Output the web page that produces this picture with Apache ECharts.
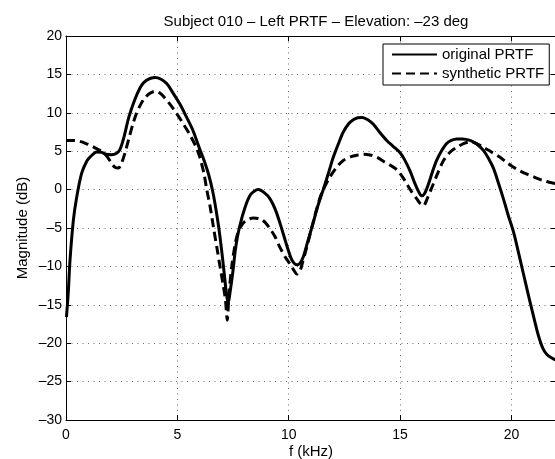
<!DOCTYPE html>
<html><head><meta charset="utf-8">
<script src="https://cdn.jsdelivr.net/npm/echarts@6/dist/echarts.min.js"></script>
<style>html,body{margin:0;padding:0;background:#fff}#c{width:555px;height:459px}</style>
</head><body><div id="c"></div>
<script>
const titleText = 'Subject 010 \u2013 Left PRTF \u2013 Elevation: \u201323 deg';
const seriesNames = ['original PRTF', 'synthetic PRTF'];
const origFreq = [0.02,0.1,0.18,0.33,0.48,0.7,0.93,1.1,1.38,1.6,1.8,2.05,2.25,2.42,2.6,2.8,3.0,3.2,3.4,3.6,3.8,4.0,4.25,4.52,4.8,5.12,5.4,5.7,6.0,6.2,6.4,6.6,6.8,6.95,7.1,7.2,7.28,7.36,7.5,7.62,7.78,8.04,8.3,8.63,8.9,9.16,9.4,9.61,9.8,9.98,10.15,10.36,10.5,10.66,10.85,11.1,11.3,11.55,11.8,12.0,12.25,12.45,12.7,12.9,13.1,13.3,13.55,13.8,14.1,14.4,14.7,15.0,15.2,15.45,15.65,15.82,15.97,16.1,16.27,16.45,16.64,16.85,17.09,17.3,17.54,17.8,18.14,18.45,18.74,19.0,19.19,19.4,19.64,19.85,20.1,20.3,20.5,20.75,21.0,21.2,21.4,21.6,21.85,22.0];
const origDb = [-16.6,-13.5,-9.2,-4.0,-1.0,2.1,3.7,4.3,4.9,4.85,4.6,4.55,4.7,5.2,6.8,9.2,11.0,12.5,13.6,14.2,14.5,14.6,14.4,13.8,12.6,11.1,9.5,7.7,5.3,3.8,2.0,-0.4,-3.8,-7.0,-10.8,-13.5,-14.8,-13.5,-10.5,-7.5,-5.0,-2.3,-0.6,0.0,-0.4,-1.2,-2.6,-4.4,-6.2,-7.9,-9.2,-9.8,-9.6,-8.7,-6.8,-4.3,-2.2,0.0,2.3,4.2,6.1,7.5,8.6,9.1,9.35,9.4,9.1,8.5,7.4,6.4,5.6,4.8,3.9,2.4,0.9,-0.2,-0.8,-0.5,0.7,2.3,3.8,5.0,6.0,6.4,6.6,6.6,6.4,5.9,5.1,3.9,2.8,1.0,-1.2,-3.3,-5.6,-8.0,-10.5,-13.6,-16.6,-18.9,-20.6,-21.5,-22.0,-22.2];
const synFreq = [0,0.3,0.6,0.9,1.2,1.45,1.65,1.85,2.05,2.2,2.35,2.5,2.65,2.8,3.0,3.15,3.3,3.5,3.75,4.0,4.2,4.45,4.7,4.97,5.3,5.57,5.8,6.0,6.2,6.32,6.47,6.62,6.8,6.92,7.05,7.16,7.24,7.32,7.45,7.59,7.7,7.85,8.05,8.41,8.7,8.95,9.16,9.4,9.6,9.85,10.06,10.25,10.36,10.5,10.6,10.8,10.96,11.2,11.4,11.55,11.8,12.0,12.2,12.45,12.8,13.1,13.36,13.65,13.96,14.3,14.6,14.85,15.1,15.3,15.5,15.75,15.9,16.05,16.2,16.43,16.7,16.95,17.25,17.54,17.85,18.14,18.45,18.74,19.1,19.49,19.8,20.1,20.4,20.7,21.05,21.4,21.7,22.0];
const synDb = [6.4,6.4,6.3,6.0,5.6,5.2,4.9,4.3,3.4,2.9,2.8,3.5,4.8,6.4,8.5,9.8,10.8,11.8,12.5,12.8,12.6,11.9,11.0,9.9,8.4,7.1,5.8,4.3,2.0,0.0,-2.2,-4.9,-8.0,-10.1,-12.3,-14.4,-17.0,-13.5,-9.8,-7.2,-5.8,-4.8,-4.1,-3.7,-3.8,-4.3,-5.1,-6.2,-7.5,-8.8,-9.7,-10.6,-11.0,-10.6,-9.7,-7.6,-5.8,-3.1,-1.1,0.0,1.4,2.3,3.1,3.8,4.3,4.5,4.6,4.5,4.2,3.6,3.1,2.6,1.7,0.75,-0.2,-1.2,-1.8,-2.1,-1.3,0.3,2.2,3.8,4.9,5.5,6.0,6.2,6.0,5.5,4.9,4.2,3.5,2.9,2.4,2.0,1.6,1.2,0.95,0.75];
const xMin = 0, xMax = 22, xStep = 5;
const yMin = -30, yMax = 20, yStep = 5;
const xName = 'f (kHz)';
const yName = 'Magnitude (dB)';

const FONT = '"Liberation Sans", Arial, Helvetica, sans-serif';
const fmt = v => String(v).replace('-', '\u2013');
const zip = (a, b) => a.map((x, i) => [x, b[i]]);
const dotted = {show: true, lineStyle: {color: '#6a6a6a', width: 1, type: [1, 4.5]}};
const tick = {show: true, inside: true, length: 5, lineStyle: {color: '#000'}};
const axLine = {show: true, onZero: false, lineStyle: {color: '#000', width: 1}};
const lbl = {color: '#000', fontSize: 14, fontFamily: FONT};
const nameStyle = {fontSize: 15, color: '#000', fontFamily: FONT};

const chart = echarts.init(document.getElementById('c'), null, {renderer: 'canvas'});
chart.setOption({
  animation: false,
  backgroundColor: '#fff',
  title: {text: titleText, left: 311, top: 9, textAlign: 'center',
    textStyle: {fontSize: 15, fontWeight: 'normal', color: '#000', fontFamily: FONT}},
  grid: {left: 66, top: 36, width: 490, height: 384, containLabel: false, outerBoundsMode: 'none'},
  legend: {
    data: seriesNames, orient: 'vertical', left: 383, top: 44,
    backgroundColor: '#fff', borderColor: '#000', borderWidth: 1, borderRadius: 0,
    padding: [3, 5, 4, 8], itemGap: 4, itemWidth: 45, itemHeight: 14,
    itemStyle: {opacity: 0},
    textStyle: {fontSize: 15, color: '#000', fontFamily: FONT}
  },
  xAxis: [
    {type: 'value', min: xMin, max: xMax, interval: xStep, position: 'bottom',
     axisLine: axLine, axisTick: tick, splitLine: dotted,
     axisLabel: Object.assign({formatter: fmt, margin: 8, showMaxLabel: false}, lbl),
     name: xName, nameLocation: 'middle', nameGap: 24, nameMoveOverlap: false, nameTextStyle: nameStyle},
    {type: 'value', min: xMin, max: xMax, interval: xStep, position: 'top',
     axisLine: axLine, axisTick: tick, splitLine: {show: false}, axisLabel: {show: false}}
  ],
  yAxis: [
    {type: 'value', min: yMin, max: yMax, interval: yStep, position: 'left',
     axisLine: axLine, axisTick: tick, splitLine: dotted,
     axisLabel: Object.assign({formatter: fmt, margin: 4}, lbl),
     name: yName, nameLocation: 'middle', nameGap: 36, nameRotate: 90, nameMoveOverlap: false, nameTextStyle: nameStyle},
    {type: 'value', min: yMin, max: yMax, interval: yStep, position: 'right',
     axisLine: axLine, axisTick: tick, splitLine: {show: false}, axisLabel: {show: false}}
  ],
  series: [
    {name: seriesNames[0], type: 'line', data: zip(origFreq, origDb), smooth: 0.3,
     symbol: 'none', lineStyle: {color: '#000', width: 3, type: 'solid'}, itemStyle: {color: '#000'}},
    {name: seriesNames[1], type: 'line', data: zip(synFreq, synDb), smooth: 0.3,
     symbol: 'none', lineStyle: {color: '#000', width: 3, type: [9, 5]}, itemStyle: {color: '#000'}}
  ]
});
</script></body></html>
